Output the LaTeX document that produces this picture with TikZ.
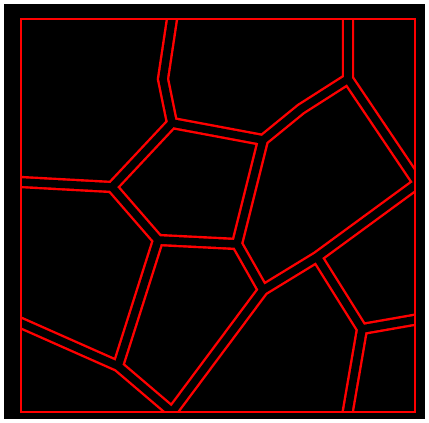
\documentclass[tikz,border=0pt]{standalone}
\usepackage{tikz}

\begin{document}
\begin{tikzpicture}[x=1pt,y=-1pt,
    cell gap/.style={draw=red,line width=2.4pt,double=black,double distance=7.6pt,line join=miter},
    frame/.style={draw=red,line width=2.4pt}]
  \useasboundingbox (0,0) rectangle (429,423);
  \fill[black] (4,4) rectangle (425,419);

  \coordinate (a) at (173.5,9);
  \coordinate (b) at (163,79);
  \coordinate (c) at (172,123);
  \coordinate (s) at (112,187);
  \coordinate (t) at (11,181.5);
  \coordinate (d) at (263,140);
  \coordinate (e) at (301,109);
  \coordinate (f) at (348,79);
  \coordinate (g) at (348,9);
  \coordinate (h) at (418,183);
  \coordinate (i) at (237,244);
  \coordinate (r) at (158,240);
  \coordinate (p) at (118,366);
  \coordinate (q) at (11,318.6);
  \coordinate (j) at (263,290);
  \coordinate (k) at (317,257);
  \coordinate (l) at (362,329);
  \coordinate (m) at (425,318);
  \coordinate (n) at (346,422);
  \coordinate (o) at (172,412);

  \begin{scope}
    \clip (21,19) rectangle (415,412);
    \path[cell gap]
      (a) -- (b) -- (c) -- (s) -- (t)
      (c) -- (d)
      (g) -- (f) -- (h) -- (k) -- (j) -- (o) -- (p) -- (q)
      (f) -- (e) -- (d) -- (i) -- (j)
      (s) -- (r) -- (i)
      (r) -- (p)
      (k) -- (l) -- (n)
      (l) -- (m);
  \end{scope}
  \draw[frame] (21,19) rectangle (415,412);
\end{tikzpicture}
\end{document}
